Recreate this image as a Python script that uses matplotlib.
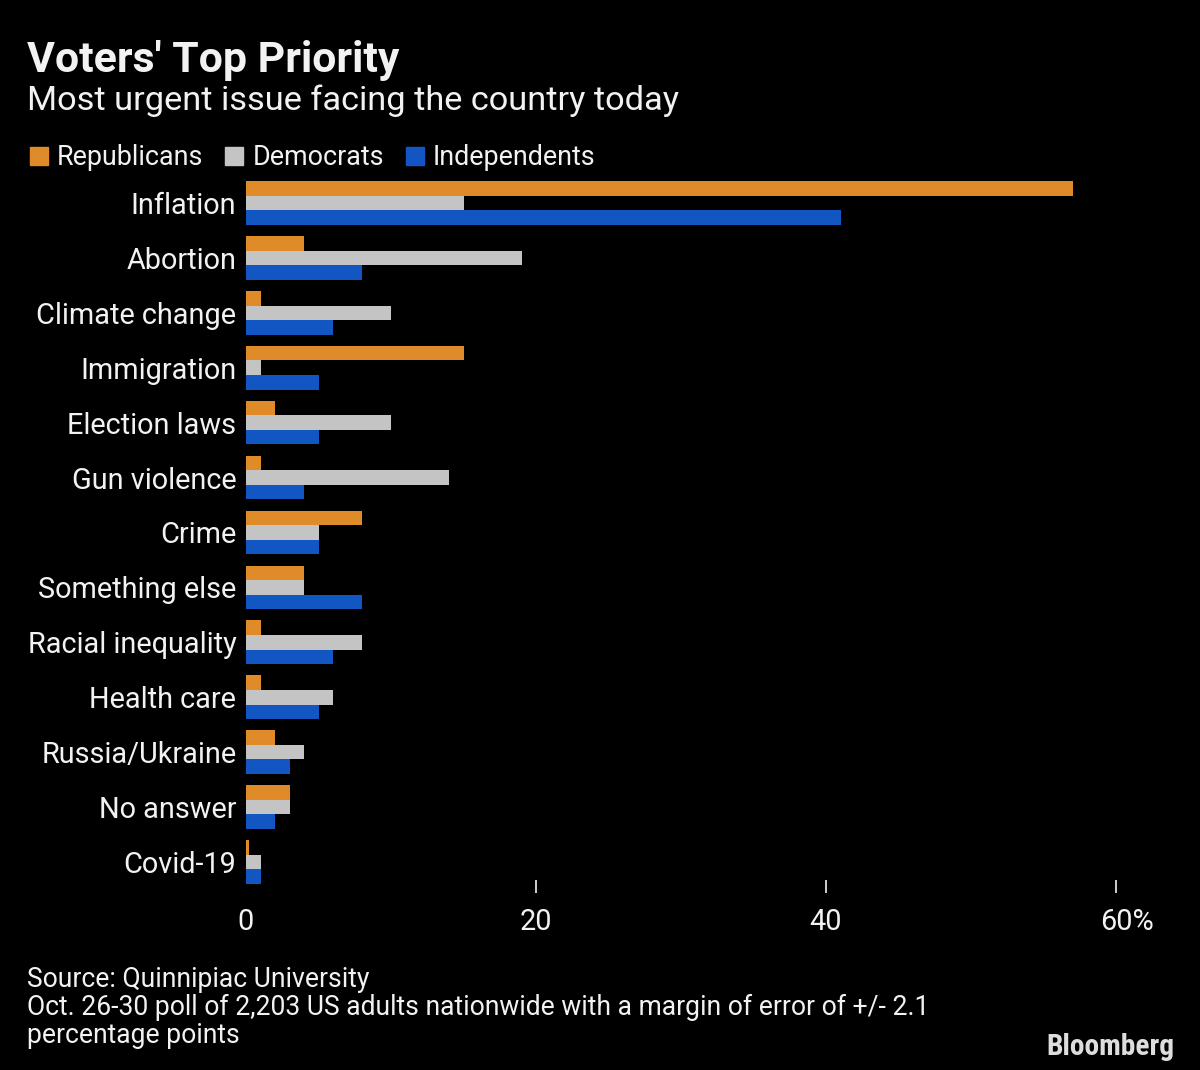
import matplotlib
matplotlib.use("Agg")
import matplotlib.pyplot as plt
import numpy as np
from matplotlib.transforms import ScaledTranslation

categories = ["Inflation", "Abortion", "Climate change", "Immigration", "Election laws",
              "Gun violence", "Crime", "Something else", "Racial inequality", "Health care",
              "Russia/Ukraine", "No answer", "Covid-19"]
republicans = [57, 4, 1, 15, 2, 1, 8, 4, 1, 1, 2, 3, 0.2]
democrats = [15, 19, 10, 1, 10, 14, 5, 4, 8, 6, 4, 3, 1]
independents = [41, 8, 6, 5, 5, 4, 5, 8, 6, 5, 3, 2, 1]
series_names = ["Republicans", "Democrats", "Independents"]
colors = ["#E08B2A", "#C4C4C4", "#1256C4"]
xticks = [0, 20, 40, 60]
xticklabels = ["0", "20", "40", "60%"]

FAM = ["Roboto", "DejaVu Sans"]
plt.rcParams['font.family'] = FAM
TXT = "#F2F2F2"

W, H = 1200, 1070
fig = plt.figure(figsize=(W/100, H/100), dpi=100, facecolor="black")
renderer = fig.canvas.get_renderer()

def fx(px): return px / W
def fy(py): return 1 - py / H

def fit_size(text, target_px, weight="normal", family=FAM):
    t = fig.text(0, 0, text, fontsize=20, fontweight=weight, family=family)
    w = t.get_window_extent(renderer).width
    t.remove()
    return 20 * target_px / w

s_title = fit_size("Voters' Top Priority", 371, "bold")
s_sub = fit_size("Most urgent issue facing the country today", 651)
s_leg = fit_size("Republicans", 146)
s_cat = fit_size("Racial inequality", 209)
s_foot = fit_size("Oct. 26-30 poll of 2,203 US adults nationwide with a margin of error of +/- 2.1", 901)
s_logo = fit_size("Bloomberg", 128, "bold", ["Roboto Condensed", "DejaVu Sans"])

ax_left, ax_right = 246, 1160
ax_top, ax_bot = 175, 893
ax = fig.add_axes([fx(ax_left), fy(ax_bot), fx(ax_right - ax_left), (ax_bot - ax_top) / H])
ax.set_facecolor("black")

n = len(categories)
y = np.arange(n)
bh = 0.265
for i, (vals, c, name) in enumerate(zip([republicans, democrats, independents], colors, series_names)):
    ax.barh(y + (i - 1) * bh, vals, height=bh, color=c, label=name)

ax.set_ylim(n - 1 + 0.565, -0.51)
ax.set_xlim(0, (ax_right - ax_left) / 14.5)
ax.set_yticks(y)
ax.set_yticklabels(categories, color=TXT, fontsize=s_cat)
ax.tick_params(axis="y", length=0, pad=7)
ax.set_xticks(xticks)
ax.set_xticklabels(xticklabels, color=TXT, fontsize=s_cat)
ax.tick_params(axis="x", direction="in", length=9.5, width=1.2, color=TXT, pad=11)
ax.xaxis.get_major_ticks()[0].tick1line.set_visible(False)
for s in ax.spines.values():
    s.set_visible(False)

# shift the "60%" label so that the number sits centred on its tick
fig.canvas.draw()
lbl = ax.get_xticklabels()[-1]
tmp = fig.text(0, 0, "%", fontsize=s_cat)
pw = tmp.get_window_extent(renderer).width
tmp.remove()
lbl.set_transform(lbl.get_transform() + ScaledTranslation(pw / 2 / 100, 0, fig.dpi_scale_trans))

fig.text(fx(27), fy(72), "Voters' Top Priority", color=TXT, fontsize=s_title, fontweight="bold", va="baseline", ha="left")
fig.text(fx(27), fy(110), "Most urgent issue facing the country today", color=TXT, fontsize=s_sub, va="baseline", ha="left")

# legend
lx = 30
ly = 165
for name, c in zip(series_names, colors):
    fig.patches.append(plt.Rectangle((fx(lx), fy(ly)), fx(18), 18 / H, transform=fig.transFigure, color=c))
    t = fig.text(fx(lx + 27), fy(ly), name, color=TXT, fontsize=s_leg, va="baseline", ha="left")
    bb = t.get_window_extent(renderer)
    lx = bb.x1 + 22

fig.text(fx(27), fy(987), "Source: Quinnipiac University", color=TXT, fontsize=s_foot, va="baseline", ha="left")
fig.text(fx(27), fy(1015), "Oct. 26-30 poll of 2,203 US adults nationwide with a margin of error of +/- 2.1", color=TXT, fontsize=s_foot, va="baseline", ha="left")
fig.text(fx(27), fy(1043), "percentage points", color=TXT, fontsize=s_foot, va="baseline", ha="left")
fig.text(fx(1174), fy(1055), "Bloomberg", color="#DDDDDD", fontsize=s_logo, fontweight="bold",
         family=["Roboto Condensed", "DejaVu Sans"], va="baseline", ha="right")

fig.savefig("out.png", dpi=100, facecolor="black")
